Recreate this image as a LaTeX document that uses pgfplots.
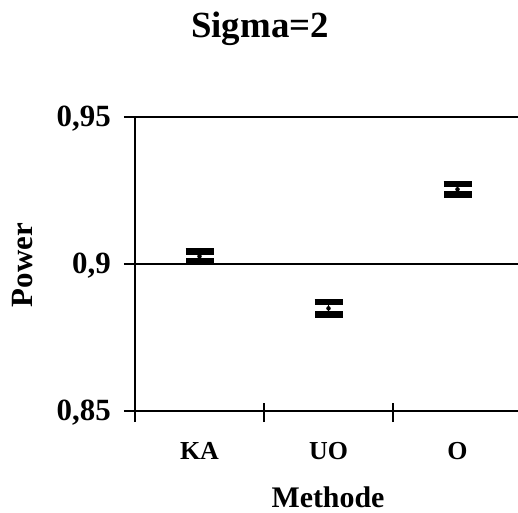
\documentclass[border=0pt]{standalone}
\usepackage{pgfplots}
\pgfplotsset{compat=1.18}
\usepackage{fontspec}
\setmainfont{Liberation Serif}

\begin{document}
\begin{tikzpicture}[x=1bp,y=1bp]
% page frame, measured from the lower left corner of the plot box
\useasboundingbox (-135,-102) rectangle (383,411);
\begin{axis}[
  scale only axis, width=387bp, height=294bp,
  xmin=-0.5, xmax=2.5, ymin=0.85, ymax=0.95,
  axis x line=bottom, axis y line=left,
  axis line style={line width=2.2bp, black, -},
  xtick={0,1,2}, xticklabels={KA,UO,O},
  minor xtick={-0.5,0.5,1.5},
  major x tick style={draw=none},
  minor x tick style={black, line width=2bp, yshift=8bp},
  minor tick length=19bp,
  ytick={0.85,0.9,0.95}, yticklabels={{0,85},{0,9},{0,95}},
  tick align=outside, major tick length=11bp,
  major y tick style={black, line width=2bp},
  ymajorgrids, grid style={black, line width=2bp},
  xticklabel style={font=\fontsize{26}{26}\selectfont\bfseries, anchor=base, yshift=-37bp, inner sep=0pt},
  yticklabel style={font=\fontsize{31}{31}\selectfont\bfseries, anchor=east, inner sep=0pt, xshift=-13bp, yshift=-2bp},
  clip=false,
]
  % power of each method with its interval
  \addplot[black, only marks, mark=none,
    error bars/.cd, y dir=both, y explicit,
    error bar style={line width=1.3bp, black},
    error mark options={rotate=90, mark size=14bp, line width=6.5bp, black}]
    coordinates {
      (0,0.9026) +- (0,0.0017)
      (1,0.8849) +- (0,0.0021)
      (2,0.9254) +- (0,0.0018)
    };
\end{axis}
\node[anchor=base, inner sep=0pt, font=\fontsize{37}{37}\selectfont\bfseries] at (125,373) {Sigma=2};
\node[anchor=base, inner sep=0pt, rotate=90, font=\fontsize{31}{31}\selectfont\bfseries] at (-102,146) {Power};
\node[anchor=base, inner sep=0pt, font=\fontsize{30}{30}\selectfont\bfseries] at (193,-96) {Methode};
\end{tikzpicture}
\end{document}
